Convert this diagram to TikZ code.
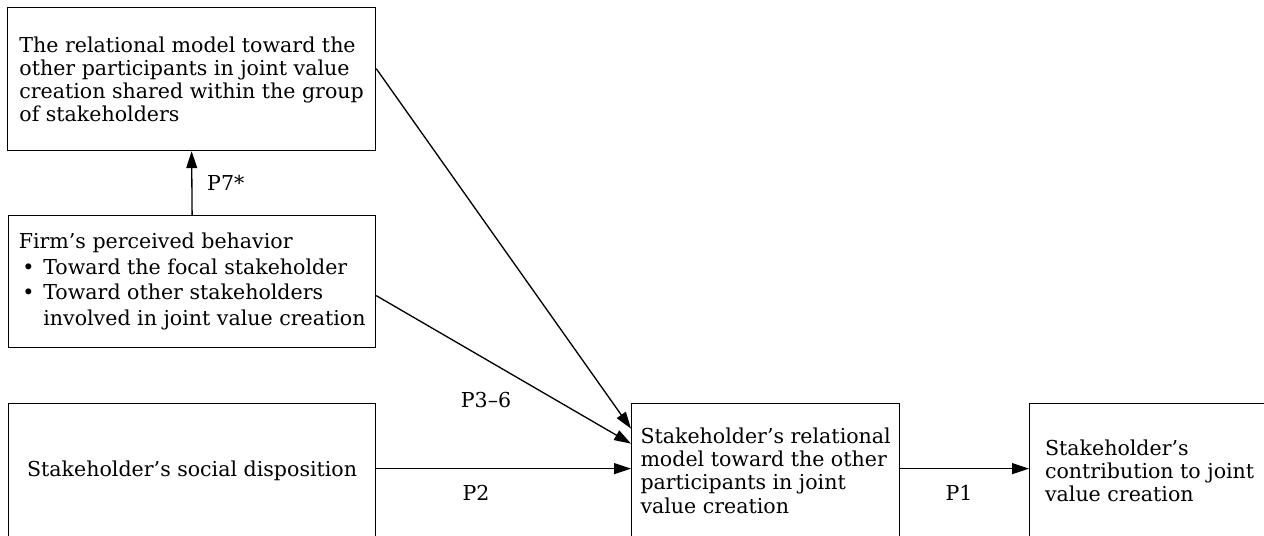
\documentclass[tikz,border=0pt]{standalone}
\usepackage{fontspec}
\setmainfont{DejaVu Serif}
\usetikzlibrary{arrows.meta}

\tikzset{
  box/.style={draw, line width=0.75pt, align=left, inner sep=0pt, anchor=north west,
    font=\fontsize{11.7}{13.2}\selectfont},
  link/.style={line width=0.75pt, -{Triangle[length=9.6pt,width=6.2pt]}},
  plabel/.style={font=\fontsize{11.7}{13.2}\selectfont}
}
\newcommand{\bul}{\makebox[14pt][l]{\hspace{2pt}\textbullet}}

\begin{document}
\begin{tikzpicture}[x=0.02cm, y=-0.02cm]
    \useasboundingbox (0,0) rectangle (1264,536);
    % boxes
    \node[box, minimum width=7.36cm, minimum height=2.86cm] (shared) at (7,7)
      {The relational model toward the\\other participants in joint value\\creation shared within the group\\of stakeholders};
    \node[box, minimum width=7.34cm, minimum height=2.64cm, font=\fontsize{11.7}{14.6}\selectfont] (behavior) at (8,215)
      {Firm’s perceived behavior\\\bul Toward the focal stakeholder\\\bul Toward other stakeholders\\\hspace*{14pt}involved in joint value creation};
    \node[box, align=center, minimum width=7.34cm, minimum height=2.68cm] (social) at (8,403)
      {Stakeholder’s social disposition};
    \node[box, minimum width=5.36cm, minimum height=2.68cm] (relmodel) at (631,403)
      {Stakeholder’s relational\\model toward the other\\participants in joint\\value creation};
    \node[box, minimum width=4.8cm, minimum height=2.68cm] (contrib) at (1029,403)
      {Stakeholder’s\\contribution to joint\\value creation};
    % arrows
    \draw[link] (behavior.north) -- (shared.south);
    \draw[link] ([yshift=0.21cm]shared.east) -- ([yshift=0.84cm]relmodel.west);
    \draw[link] ([yshift=-0.28cm]behavior.east) -- ([yshift=0.54cm]relmodel.west);
    \draw[link] ([yshift=0.04cm]social.east) -- ([yshift=0.04cm]relmodel.west);
    \draw[link] ([yshift=0.04cm]relmodel.east) -- ([yshift=0.04cm]contrib.west);
    % labels
    \node[plabel, anchor=west] (p7) at (201,183) {P7*};
    \node[plabel] (p36) at (486,400) {P3--6};
    \node[plabel] (p2) at (476,493) {P2};
    \node[plabel] (p1) at (959,493) {P1};
\end{tikzpicture}
\end{document}
